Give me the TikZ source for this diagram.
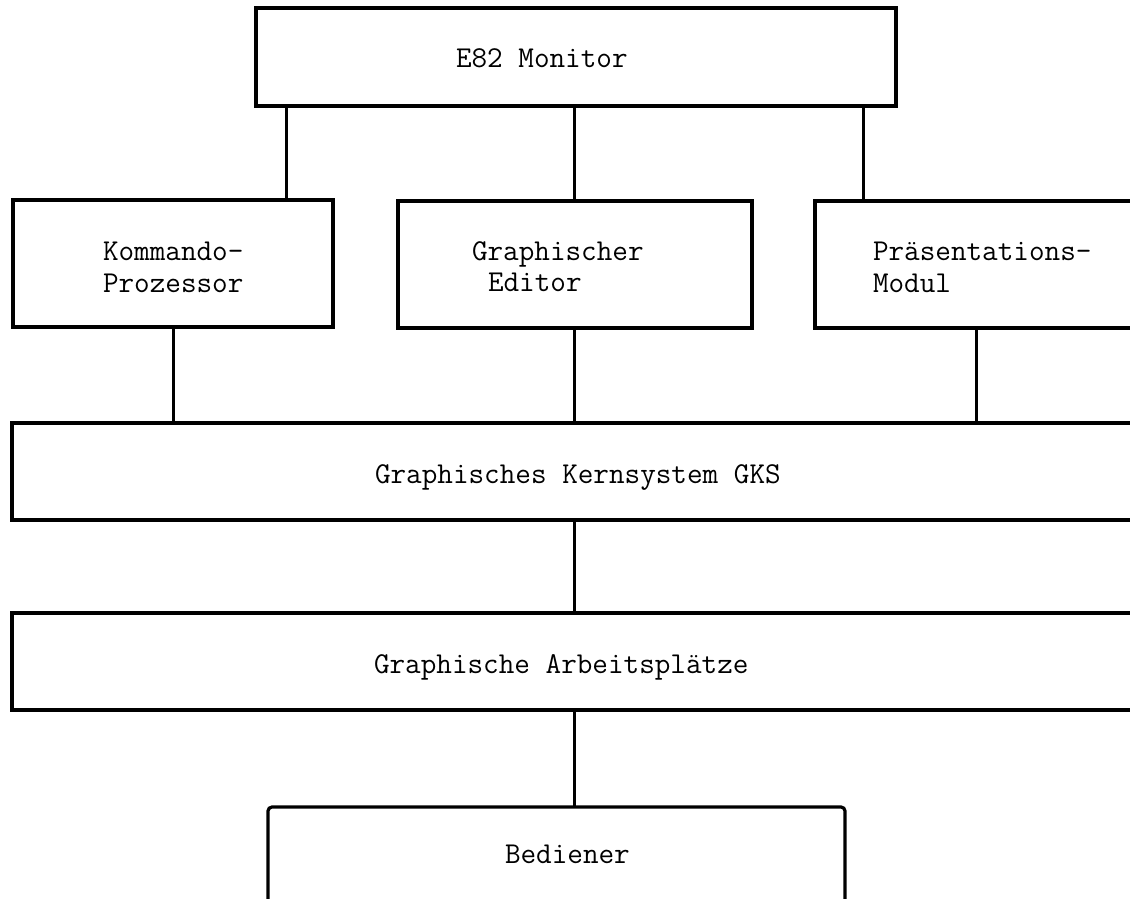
\documentclass[tikz,border=0pt]{standalone}
\usepackage{fontspec}
\begin{document}
\begin{tikzpicture}[x=1pt,y=-1pt,
  boxnode/.style={draw=black,line width=3.2pt,inner sep=0pt,outer sep=0pt,fill=none},
  conn/.style={draw=black,line width=3pt},
  lbl/.style={anchor=base west,inner sep=0pt,outer sep=0pt,font=\ttfamily\addfontfeatures{FakeBold=0.5}\fontsize{30.3}{32}\selectfont}]
\clip (0,0) rectangle (1130,899);
\fill[white] (0,0) rectangle (1130,899);
% boxes
\node[boxnode,minimum width=640pt,minimum height=98pt] (mon) at (576,57) {};
\node[boxnode,minimum width=320pt,minimum height=127pt] (kp) at (173,263.5) {};
\node[boxnode,minimum width=354pt,minimum height=127pt] (ge) at (575,264.5) {};
\node[boxnode,minimum width=345pt,minimum height=127pt] (pm) at (987.5,264.5) {};
\node[boxnode,minimum width=1148pt,minimum height=97pt] (gks) at (586,471.5) {};
\node[boxnode,minimum width=1148pt,minimum height=97pt] (ap) at (586,661.5) {};
\node[boxnode,rounded corners=4pt,minimum width=577pt,minimum height=143pt] (bed) at (556.5,878.5) {};
% texts
\node[lbl] (tmon) at (456,68) {E82 Monitor};
\node[lbl] (tkp1) at (103,260) {Kommando-};
\node[lbl] (tkp2) at (103,292) {Prozessor};
\node[lbl] (tge1) at (472,260) {Graphischer};
\node[lbl] (tge2) at (488,291) {Editor};
\node[lbl] (tpm1) at (873,260) {Präsentations-};
\node[lbl] (tpm2) at (873,292) {Modul};
\node[lbl] (tgks) at (375,483) {Graphisches Kernsystem GKS};
\node[lbl] (tap) at (374,673) {Graphische Arbeitsplätze};
\node[lbl] (tbed) at (505,863) {Bediener};
% connector columns
\coordinate (xa) at (286,0);
\coordinate (xb) at (574,0);
\coordinate (xc) at (863,0);
\coordinate (xd) at (173,0);
\coordinate (xe) at (976,0);
\draw[conn] (xa |- mon.south) -- (xa |- kp.north);
\draw[conn] (xb |- mon.south) -- (xb |- ge.north);
\draw[conn] (xc |- mon.south) -- (xc |- pm.north);
\draw[conn] (xd |- kp.south) -- (xd |- gks.north);
\draw[conn] (xb |- ge.south) -- (xb |- gks.north);
\draw[conn] (xe |- pm.south) -- (xe |- gks.north);
\draw[conn] (xb |- gks.south) -- (xb |- ap.north);
\draw[conn] (xb |- ap.south) -- (xb |- bed.north);
\end{tikzpicture}
\end{document}
